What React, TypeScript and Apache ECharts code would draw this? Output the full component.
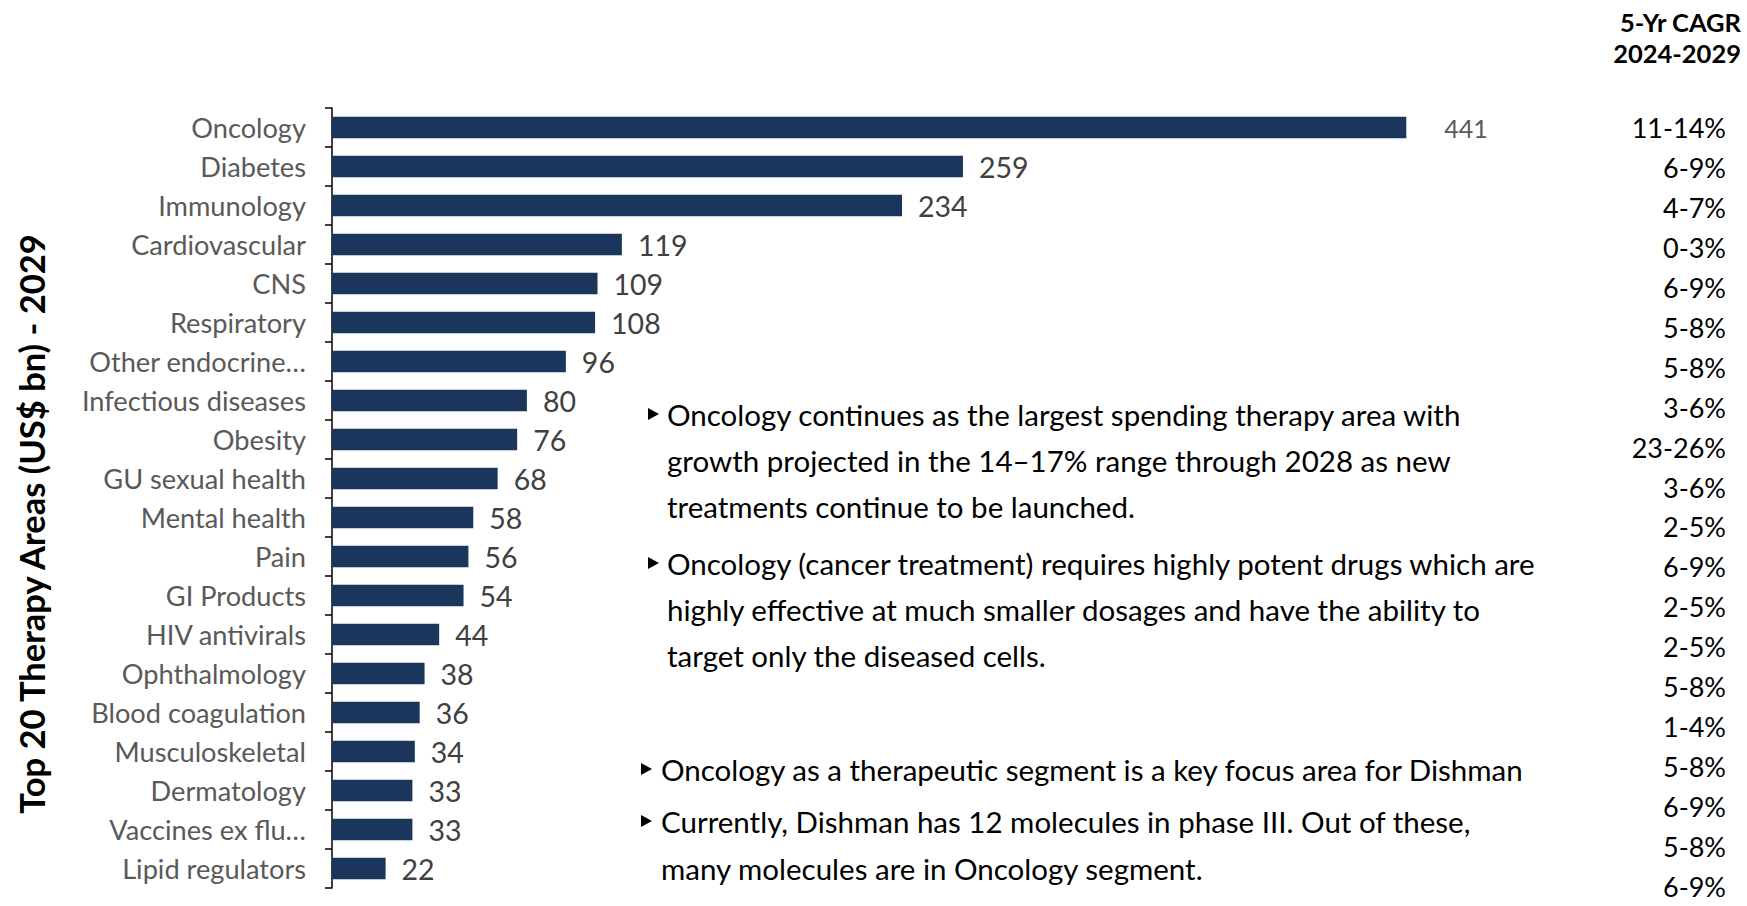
import React, { useEffect, useRef } from "react";
import * as echarts from "echarts";

const categories = [
  "Oncology", "Diabetes", "Immunology", "Cardiovascular", "CNS", "Respiratory",
  "Other endocrine…", "Infectious diseases", "Obesity", "GU sexual health",
  "Mental health", "Pain", "GI Products", "HIV antivirals", "Ophthalmology",
  "Blood coagulation", "Musculoskeletal", "Dermatology", "Vaccines ex flu…",
  "Lipid regulators",
];
const values = [441, 259, 234, 119, 109, 108, 96, 80, 76, 68, 58, 56, 54, 44, 38, 36, 34, 33, 33, 22];
const cagr = [
  "11-14%", "6-9%", "4-7%", "0-3%", "6-9%", "5-8%", "5-8%", "3-6%", "23-26%", "3-6%",
  "2-5%", "6-9%", "2-5%", "2-5%", "5-8%", "1-4%", "5-8%", "6-9%", "5-8%", "6-9%",
];
const cagrHeader = ["5-Yr CAGR", "2024-2029"];
const axisTitle = "Top 20 Therapy Areas (US$ bn) - 2029";
const notesTop = [
  [
    "Oncology continues as the largest spending therapy area with",
    "growth projected in the 14–17% range through 2028 as new",
    "treatments continue to be launched.",
  ],
  [
    "Oncology (cancer treatment) requires highly potent drugs which are",
    "highly effective at much smaller dosages and have the ability to",
    "target only the diseased cells.",
  ],
];
const notesBottom = [
  ["Oncology as a therapeutic segment is a key focus area for Dishman"],
  [
    "Currently, Dishman has 12 molecules in phase III. Out of these,",
    "many molecules are in Oncology segment.",
  ],
];

const FONT = "Lato, 'Open Sans', sans-serif";
const BAR = "#1B365D";

function tri(cx: number, cy: number) {
  return {
    type: "polygon",
    shape: { points: [[cx - 5, cy - 6], [cx - 5, cy + 6], [cx + 6, cy]] },
    style: { fill: "#000" },
  };
}

function noteText(x: number, y: number, lines: string[], lh: number) {
  return {
    type: "text",
    x,
    y,
    style: {
      text: lines.join("\n"),
      fontFamily: FONT,
      fontSize: 29.5,
      lineHeight: lh,
      fill: "#000",
      textAlign: "left",
      textVerticalAlign: "top",
    },
  };
}

export default function App() {
  const ref = useRef<HTMLDivElement>(null);
  useEffect(() => {
    if (!ref.current) return;
    const chart = echarts.init(ref.current, null, { renderer: "svg" });
    const graphic: any[] = [];
    graphic.push({
      type: "text",
      x: 31,
      y: 524,
      rotation: Math.PI / 2,
      style: {
        text: axisTitle,
        fontFamily: FONT,
        fontWeight: "bold",
        fontSize: 34.5,
        fill: "#000",
        textAlign: "center",
        textVerticalAlign: "middle",
      },
    });
    cagrHeader.forEach((t, i) => {
      graphic.push({
        type: "text",
        x: 1741,
        y: 22 + i * 30.5,
        style: {
          text: t,
          fontFamily: FONT,
          fontWeight: "bold",
          fontSize: 25.5,
          fill: "#000",
          textAlign: "right",
          textVerticalAlign: "middle",
        },
      });
    });
    graphic.push(tri(653, 414));
    graphic.push(noteText(667, 391, notesTop[0], 46));
    graphic.push(tri(653, 563));
    graphic.push(noteText(667, 540, notesTop[1], 46));
    graphic.push(tri(646, 769));
    graphic.push(noteText(661, 746, notesBottom[0], 47));
    graphic.push(tri(646, 821));
    graphic.push(noteText(661, 798, notesBottom[1], 47));

    chart.setOption({
      animation: false,
      grid: [
        { left: 332, top: 108, bottom: 18, right: 197, containLabel: false },
        { left: 1728, top: 108, bottom: -9, right: 10, containLabel: false },
      ],
      xAxis: [
        { type: "value", min: 0, max: 500, show: false, gridIndex: 0 },
        { type: "value", min: 0, max: 1, show: false, gridIndex: 1 },
      ],
      yAxis: [
        {
          type: "category",
          gridIndex: 0,
          data: categories,
          inverse: true,
          axisLine: { show: true, lineStyle: { color: "#000", width: 1.5 } },
          axisTick: { show: true, length: 7, lineStyle: { color: "#000", width: 1.5 } },
          axisLabel: {
            margin: 26,
            color: "#595959",
            fontFamily: FONT,
            fontSize: 27.2,
          },
        },
        {
          type: "category",
          gridIndex: 1,
          position: "left",
          data: cagr,
          inverse: true,
          axisLine: { show: false },
          axisTick: { show: false },
          axisLabel: {
            margin: 2,
            color: "#000",
            fontFamily: FONT,
            fontSize: 27,
          },
        },
      ],
      series: [
        {
          type: "bar",
          xAxisIndex: 0,
          yAxisIndex: 0,
          barCategoryGap: "45%",
          itemStyle: { color: BAR },
          label: {
            show: true,
            position: "right",
            distance: 16,
            color: "#404040",
            fontFamily: FONT,
            fontSize: 28.5,
          },
          data: values.map((v, i) =>
            i === 0
              ? { value: v, label: { fontSize: 25, distance: 38, color: "#595959" } }
              : v
          ),
        },
      ],
      graphic,
    });
    return () => chart.dispose();
  }, []);
  return <div ref={ref} style={{ width: 1747, height: 906, position: "absolute", left: 0, top: 0 }} />;
}
